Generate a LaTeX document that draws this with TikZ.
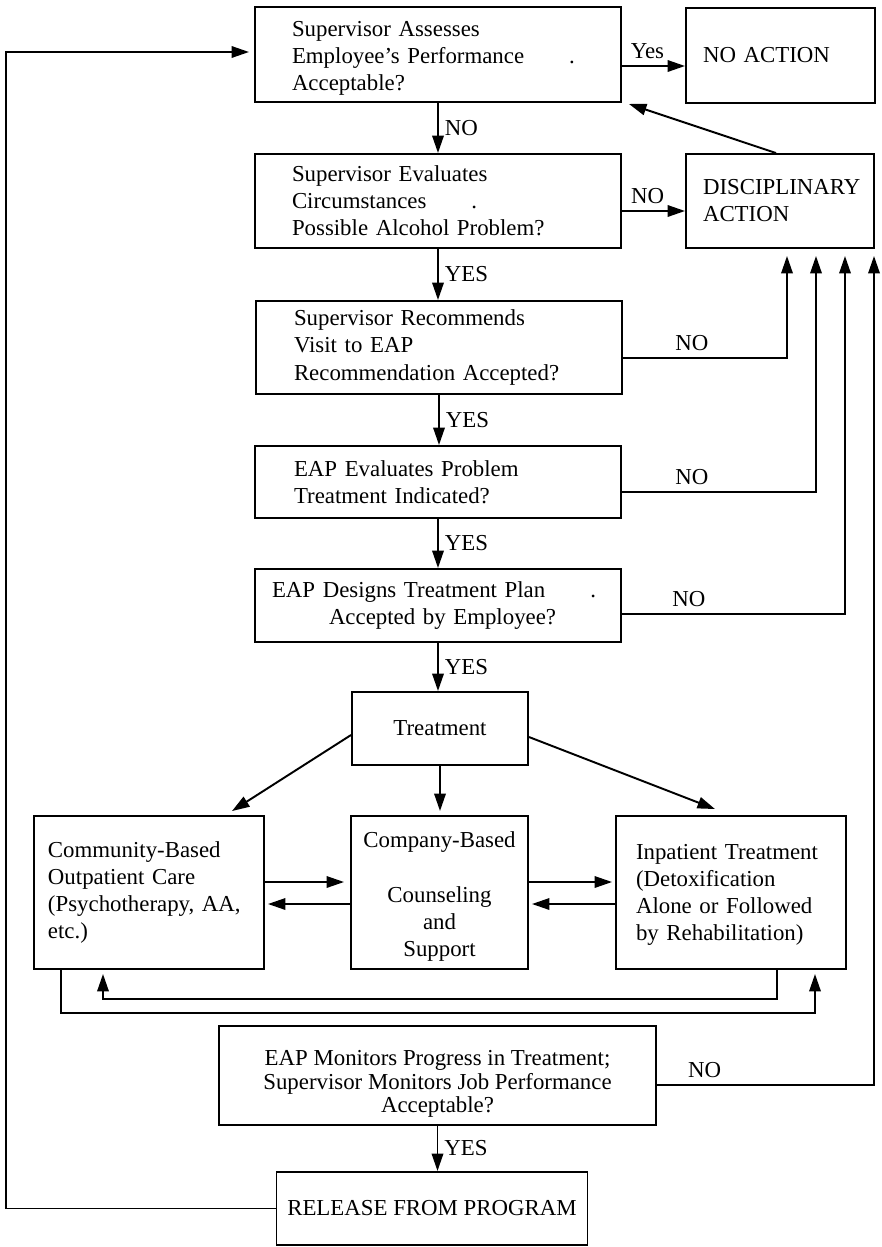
\documentclass[tikz,border=0pt]{standalone}
\usepackage{fontspec}
\setmainfont{Liberation Serif}
\usetikzlibrary{arrows.meta}
\hyphenpenalty=10000
\exhyphenpenalty=10000

\begin{document}
\begin{tikzpicture}[x=0.2mm,y=-0.2mm,line width=1.1pt,
  >={Triangle[length=3.5mm,width=2.3mm]},
  every node/.style={font=\fontsize{13}{15.4}\selectfont},
  box/.style={draw,rectangle},
  lbox/.style={box,align=left},
  cbox/.style={box,align=center}]
\useasboundingbox (0,0) rectangle (881,1247);

\node[lbox,inner xsep=7.4mm,text width=58.4mm,minimum height=19mm] (assess) at (438,54.5)
  {\rule{0pt}{4.4mm}Supervisor Assesses\\Employee's Performance\rlap{\hspace{9mm}.}\\Acceptable?};
\node[lbox,inner xsep=3.4mm,text width=31mm,minimum height=19mm] (noact) at (780.5,55.5) {NO ACTION};
\node[lbox,inner xsep=7.4mm,text width=58.4mm,minimum height=18.8mm] (evaluate) at (438,201)
  {Supervisor Evaluates\\Circumstances\rlap{\hspace{9mm}.}\\Possible Alcohol Problem?};
\node[lbox,inner xsep=3.4mm,text width=30.8mm,minimum height=18.8mm] (disc) at (780,201) {DISCIPLINARY\\ACTION};
\node[lbox,inner xsep=7.6mm,text width=58mm,minimum height=18.6mm] (recommend) at (439,347.5)
  {Supervisor Recommends\\Visit to EAP\\Recommendation Accepted?};
\node[lbox,inner xsep=7.8mm,text width=57.6mm,minimum height=14.4mm] (eapeval) at (438,482)
  {EAP Evaluates Problem\\Treatment Indicated?};
\node[lbox,inner xsep=3.4mm,text width=66.4mm,minimum height=14.6mm] (design) at (438,605.5)
  {EAP Designs Treatment Plan\rlap{\hspace{9mm}.}\\\hspace*{11.4mm}Accepted by Employee?};

\node[cbox,minimum width=35.2mm,minimum height=14.6mm] (treat) at (440,728.5) {Treatment};
\node[lbox,inner xsep=2.8mm,text width=40.4mm,minimum height=30.6mm] (community) at (149,892.5)
  {Community-Based\\Outpatient Care\\(Psychotherapy, AA,\\etc.)};
\node[cbox,minimum width=35.4mm,minimum height=30.6mm] (company) at (439.5,892.5)
  {\rule{0pt}{4.8mm}Company-Based\\[5.4mm]Counseling\\and\\Support};
\node[lbox,inner xsep=4mm,text width=38mm,minimum height=30.6mm] (inpatient) at (731,892.5)
  {\rule{0pt}{4mm}Inpatient Treatment\\(Detoxification\\Alone or Followed\\by Rehabilitation)};

\node[cbox,minimum width=87.4mm,minimum height=19.8mm,font=\fontsize{13}{13.6}\selectfont] (monitor) at (437.5,1075.5)
  {\rule{0pt}{6.4mm}EAP Monitors Progress in Treatment;\\Supervisor Monitors Job Performance\hspace*{8mm}\\Acceptable?};
\node[cbox,minimum width=62.2mm,minimum height=14.6mm] (release) at (432,1208.5) {RELEASE FROM PROGRAM};

\foreach \a/\b/\t in {assess/evaluate/NO, evaluate/recommend/YES, recommend/eapeval/YES,
                      eapeval/design/YES, design/treat/YES, monitor/release/YES}
  \draw[->] (\a.south) -- node[right]{\t} (\a.south |- \b.north);

\draw[->] ([yshift=-2.3mm]assess.east) -- node[above,xshift=-1.2mm]{Yes} ([yshift=-2.3mm]assess.east -| noact.west);
\draw[->] ([yshift=-2mm]evaluate.east) -- node[above,xshift=-1.2mm]{NO} ([yshift=-2mm]evaluate.east -| disc.west);
\draw[->] ([xshift=-0.8mm]disc.north) -- ([xshift=1.4mm,yshift=-0.2mm]assess.south east);

\foreach \src/\ys/\xs/\p in {recommend/-2.1/1.4/.21, eapeval/-2/7.2/.18,
                             design/-1.7/13/.15, monitor/-1.9/18.8/.11}
  \draw[->,shorten >=1.4mm] ([yshift=\ys mm]\src.east) -| node[above,pos=\p]{NO} ([xshift=\xs mm]disc.south);

\draw[->] ([yshift=-1.3mm]treat.west) -- ([xshift=16.6mm,yshift=0.8mm]community.north);
\draw[->,shorten >=0.8mm] (treat.south) -- (treat.south |- company.north);
\draw[->] ([yshift=-1.7mm]treat.east) -- ([xshift=-3.2mm,yshift=1.2mm]inpatient.north);

\draw[->,shorten >=1.2mm] ([yshift=2.1mm]community.east) -- ([yshift=2.1mm]company.west);
\draw[->,shorten >=0.6mm] ([yshift=-2.3mm]company.west) -- ([yshift=-2.3mm]community.east);
\draw[->,shorten >=0.6mm] ([yshift=2.1mm]company.east) -- ([yshift=2.1mm]inpatient.west);
\draw[->,shorten >=0.6mm] ([yshift=-2.3mm]inpatient.west) -- ([yshift=-2.3mm]company.east);

\draw[->,shorten >=0.8mm] ([xshift=-17.6mm]community.south) -- ++(0,43) -| ([xshift=16.8mm]inpatient.south);
\draw[->,shorten >=0.8mm] ([xshift=9.2mm]inpatient.south) -- ++(0,29) -| ([xshift=-9.2mm]community.south);

\coordinate (loopc) at (6,52);
\draw[->,shorten >=1mm] (release.west) -| (loopc) -- (loopc -| assess.west);
\end{tikzpicture}
\end{document}
